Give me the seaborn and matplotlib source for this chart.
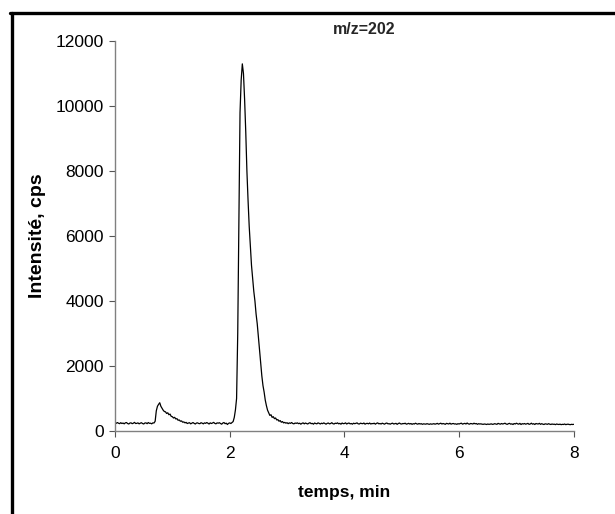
"""
Chromatogramme m/z=202 (intensite vs temps)
"""

import numpy as np
import pandas as pd
import matplotlib
matplotlib.use('Agg')
import matplotlib.pyplot as plt
from matplotlib.lines import Line2D
import seaborn as sns

# intensity (cps), sampled every 0.02 min from 0 to 8 min
intensity = [
    250, 235, 260, 240, 225, 255, 230, 245, 220, 250, 260, 230, 215, 245, 250, 225, 240, 265, 230, 235,
    250, 220, 240, 255, 230, 215, 245, 250, 225, 260, 235, 240, 220, 250, 245, 300, 620, 760, 820, 870,
    760, 700, 640, 600, 590, 540, 560, 500, 520, 450, 440, 400, 420, 370, 380, 330, 340, 300, 310, 270,
    280, 250, 265, 230, 245, 255, 220, 240, 260, 235, 215, 245, 250, 230, 225, 255, 240, 220, 250, 235,
    260, 240, 215, 250, 230, 245, 265, 235, 220, 250, 240, 255, 230, 210, 245, 260, 225, 240, 200, 235,
    250, 230, 260, 290, 420, 650, 1000, 3000, 6500, 9800, 10800, 11300, 11000, 10200, 9200, 8000, 7100, 6300, 5700, 5100,
    4700, 4300, 4000, 3600, 3300, 2900, 2500, 2100, 1700, 1400, 1200, 950, 780, 640, 560, 480, 500, 420, 440, 380,
    400, 340, 350, 300, 320, 270, 290, 250, 265, 240, 255, 225, 250, 235, 260, 230, 220, 245, 235, 250,
    225, 240, 210, 235, 250, 220, 245, 230, 215, 240, 255, 225, 235, 210, 245, 230, 220, 250, 235, 215,
    240, 225, 250, 230, 210, 235, 245, 220, 230, 255, 225, 215, 240, 230, 250, 220, 235, 210, 245, 225,
    230, 250, 215, 235, 245, 220, 230, 210, 240, 225, 235, 250, 220, 215, 240, 230, 225, 245, 210, 230,
    235, 220, 245, 215, 230, 225, 240, 210, 235, 250, 220, 230, 215, 240, 225, 210, 235, 245, 220, 225,
    210, 230, 240, 215, 225, 235, 205, 230, 245, 220, 215, 230, 225, 240, 210, 220, 235, 215, 230, 205,
    225, 215, 240, 220, 210, 230, 215, 225, 205, 220, 215, 210, 225, 215, 205, 220, 210, 215, 225, 210,
    220, 235, 210, 225, 240, 215, 230, 220, 205, 235, 225, 215, 240, 210, 225, 230, 215, 220, 205, 225,
    215, 230, 240, 210, 225, 235, 215, 245, 220, 210, 230, 225, 215, 240, 220, 230, 205, 225, 215, 220,
    210, 205, 215, 210, 200, 215, 205, 210, 220, 205, 210, 225, 215, 205, 235, 220, 210, 230, 215, 225,
    240, 215, 205, 225, 235, 210, 220, 200, 230, 215, 240, 220, 210, 235, 200, 225, 215, 230, 210, 220,
    235, 205, 215, 240, 210, 225, 200, 230, 220, 215, 235, 205, 225, 210, 200, 220, 215, 205, 225, 210,
    200, 215, 205, 210, 195, 215, 205, 200, 210, 195, 205, 200, 215, 195, 205, 210, 200, 195, 205, 200,
    205,
]
# acquisition time axis (min)
temps = np.linspace(0, 8, len(intensity))

x_ticks = [0, 2, 4, 6, 8]
y_ticks = [0, 2000, 4000, 6000, 8000, 10000, 12000]
title = 'm/z=202'
x_label = 'temps, min'
y_label = 'Intensité, cps'

df = pd.DataFrame({'temps': temps, 'intensite': intensity})

sns.set_style('ticks')
plt.rcParams['font.family'] = ['Liberation Sans', 'DejaVu Sans']

fig = plt.figure(figsize=(6.15, 5.14), dpi=100)
ax = fig.add_axes([0.187, 0.1615, 0.746, 0.7585])

sns.lineplot(data=df, x='temps', y='intensite', ax=ax, color='black', linewidth=0.9)

ax.set_xlim(0, 8)
ax.set_ylim(0, 12000)
ax.set_xticks(x_ticks)
ax.set_yticks(y_ticks)
ax.tick_params(axis='both', labelsize=12.5, length=4, width=0.8, color='#555555',
               labelcolor='black', direction='out')
ax.tick_params(axis='x', pad=7)
ax.tick_params(axis='y', pad=4)

for side in ['top', 'right']:
    ax.spines[side].set_visible(False)
for side in ['left', 'bottom']:
    ax.spines[side].set_color('#808080')
    ax.spines[side].set_linewidth(1.0)

ax.set_xlabel(x_label, fontsize=12.5, fontweight='bold', labelpad=17, color='black')
ax.set_ylabel(y_label, fontsize=14, fontweight='bold', labelpad=7, color='black')

fig.text(0.592, 0.942, title, fontsize=11.5, fontweight='bold', ha='center', va='center')

# outer frame (left and top edges only visible)
fig.add_artist(Line2D([0.0187, 0.0187], [0.0, 0.974], color='black', linewidth=2.4, transform=fig.transFigure))
fig.add_artist(Line2D([0.0163, 1.0], [0.974, 0.974], color='black', linewidth=2.4, transform=fig.transFigure))

fig.savefig('out.png', dpi=100)
